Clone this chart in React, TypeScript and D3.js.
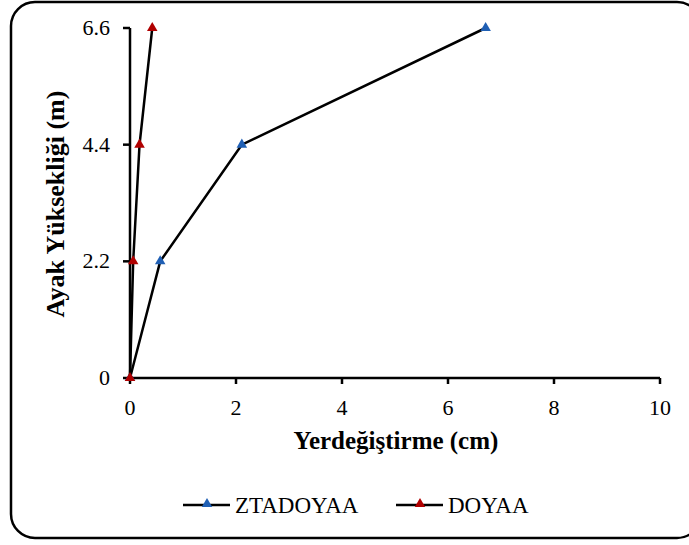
import React from "react";
import * as d3 from "d3";

const seriesNames = ["ZTADOYAA", "DOYAA"];
const heights = [0, 2.2, 4.4, 6.6];
const ztadoyaa = [0, 0.57, 2.11, 6.71];
const doyaa = [0, 0.06, 0.18, 0.42];
const xTicks = [0, 2, 4, 6, 8, 10];
const yTicks = [0, 2.2, 4.4, 6.6];
const colors = ["#1F5FB4", "#B00000"];

const W = 689;
const H = 545;
const font = "Liberation Serif, Times New Roman, Times, serif";

export default function App() {
  const x = d3.scaleLinear().domain([0, 10]).range([130, 660]);
  const y = d3.scaleLinear().domain([0, 6.6]).range([378, 28]);
  const series = [ztadoyaa, doyaa].map((xs, i) => ({
    name: seriesNames[i],
    color: colors[i],
    pts: xs.map((v, j) => [v, heights[j]] as [number, number]),
  }));
  const line = d3
    .line<[number, number]>()
    .x((d) => x(d[0]))
    .y((d) => y(d[1]));
  const tri = d3.symbol().type(d3.symbolTriangle).size(48)();
  const legendX = [183, 396];
  const ts = { fontFamily: font };

  return (
    <svg
      width={W}
      height={H}
      style={{ position: "absolute", left: 0, top: 0, fontFamily: font }}
    >
      <rect x={0} y={0} width={W} height={H} fill="#fff" />
      <rect
        x={11}
        y={2}
        width={690}
        height={536}
        rx={24}
        ry={24}
        fill="#fff"
        stroke="#000"
        strokeWidth={2.5}
      />
      <line x1={x(0)} x2={x(10)} y1={y(0)} y2={y(0)} stroke="#000" strokeWidth={2.5} />
      <line x1={x(0)} x2={x(0)} y1={y(0)} y2={y(6.6)} stroke="#000" strokeWidth={2.5} />
      {xTicks.map((t) => (
        <g key={"x" + t}>
          <line x1={x(t)} x2={x(t)} y1={y(0)} y2={y(0) + 6} stroke="#000" strokeWidth={2.5} />
          <text x={x(t)} y={y(0) + 37} textAnchor="middle" fontSize={22} style={ts}>
            {t}
          </text>
        </g>
      ))}
      {yTicks.map((t) => (
        <g key={"y" + t}>
          <line x1={x(0) - 7} x2={x(0)} y1={y(t)} y2={y(t)} stroke="#000" strokeWidth={2.5} />
          <text x={x(0) - 20} y={y(t) + 7} textAnchor="end" fontSize={22} style={ts}>
            {t === 0 ? "0" : t.toFixed(1)}
          </text>
        </g>
      ))}
      {series.map((s) => (
        <g key={s.name}>
          <path d={line(s.pts) || ""} fill="none" stroke="#000" strokeWidth={2.5} />
          {s.pts.map((p, j) => (
            <path
              key={j}
              d={tri || ""}
              transform={`translate(${x(p[0])},${y(p[1])})`}
              fill={s.color}
            />
          ))}
        </g>
      ))}
      <text x={396} y={449} textAnchor="middle" fontSize={25} fontWeight="bold" style={ts}>
        Yerdeğiştirme (cm)
      </text>
      <text
        transform={`translate(64,${204}) rotate(-90)`}
        textAnchor="middle"
        fontSize={26}
        fontWeight="bold"
        style={ts}
      >
        Ayak Yüksekliği (m)
      </text>
      {series.map((s, i) => (
        <g key={"lg" + s.name} transform={`translate(${legendX[i]},505)`}>
          <line x1={0} x2={47} y1={0} y2={0} stroke="#000" strokeWidth={2.5} />
          <path d={tri || ""} transform="translate(24,-1)" fill={s.color} />
          <text x={52} y={8} fontSize={23} style={ts}>
            {s.name}
          </text>
        </g>
      ))}
    </svg>
  );
}
